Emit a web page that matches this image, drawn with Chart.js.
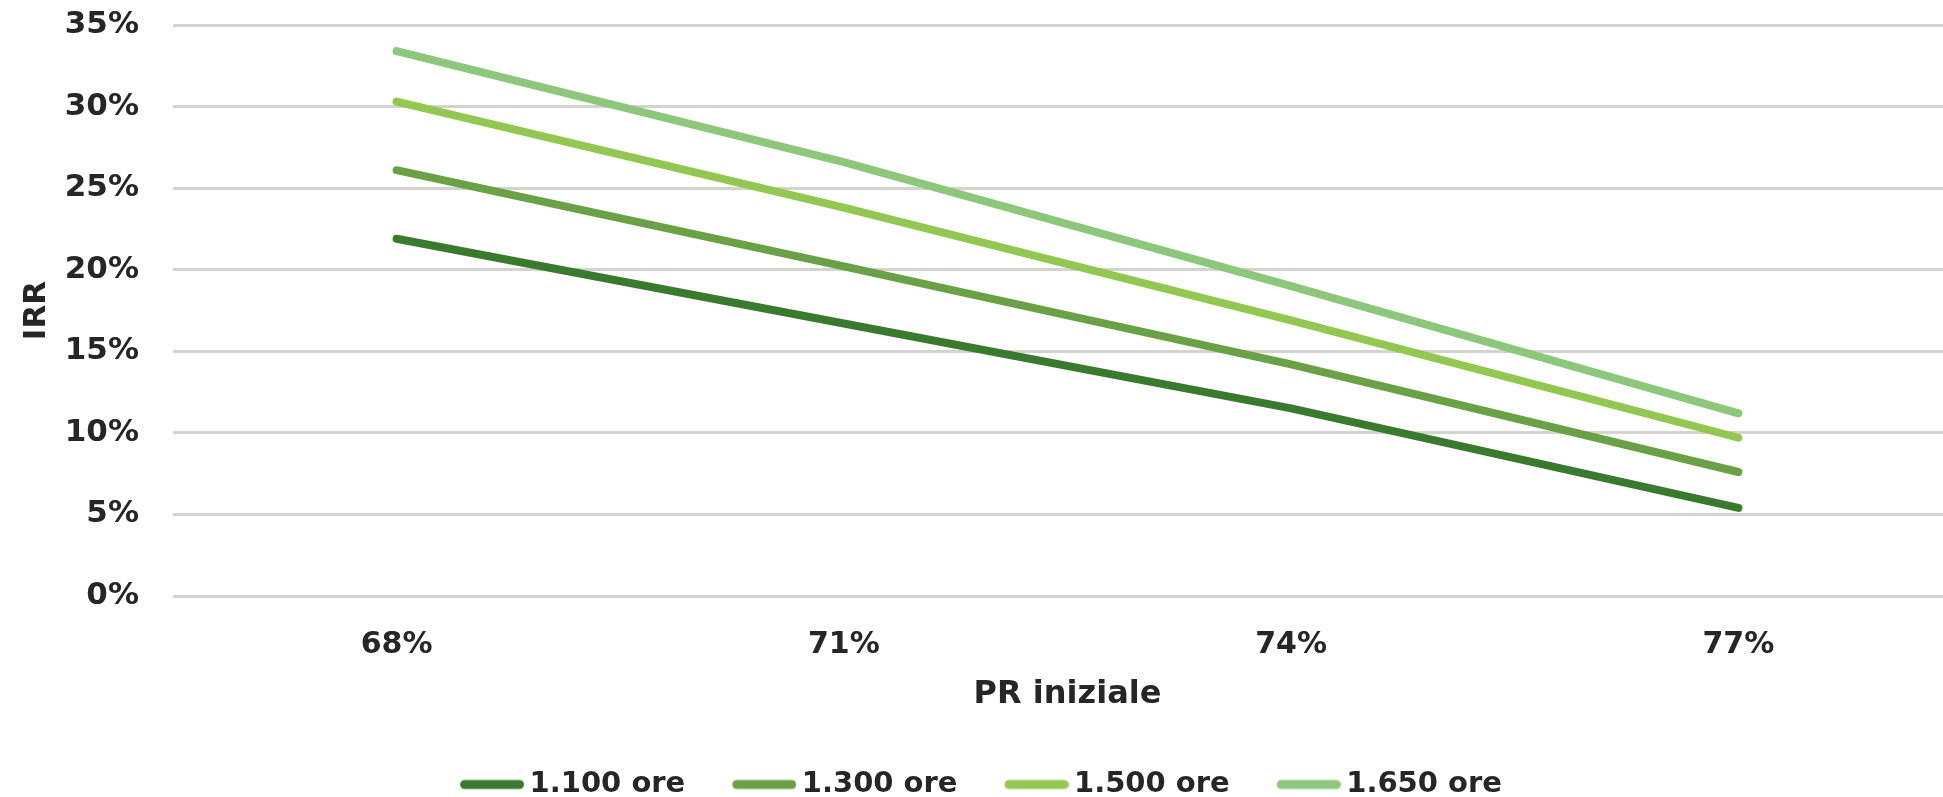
<!DOCTYPE html>
<html>
<head>
<meta charset="utf-8">
<script src="https://cdn.jsdelivr.net/npm/chart.js@4/dist/chart.umd.min.js"></script>
<style>
  html, body { margin: 0; padding: 0; background: #ffffff; overflow: hidden; }
  #wrap { width: 1943px; height: 797px; overflow: hidden; position: relative; }
  canvas { display: block; }
</style>
</head>
<body>
<div id="wrap"><canvas id="irr" width="1962" height="809"></canvas></div>
<script>
// PR iniziale categories
const categories = ['68%', '71%', '74%', '77%'];
// IRR (%) for each yearly equivalent-hours scenario
const irr1100 = [21.9, 16.7, 11.5, 5.4];
const irr1300 = [26.1, 20.2, 14.2, 7.6];
const irr1500 = [30.3, 23.8, 16.9, 9.7];
const irr1650 = [33.4, 26.6, 19.0, 11.2];
const seriesNames = ['1.100 ore', '1.300 ore', '1.500 ore', '1.650 ore'];
const seriesColors = ['#3a7a2e', '#6aa046', '#92c851', '#8dc77c'];
const yTicks = [0, 5, 10, 15, 20, 25, 30, 35];

const FONT = '"DejaVu Sans", sans-serif';
const TEXT = '#262626';

// Legend swatch: a short rounded line that reaches close to the label text
const SWATCH_BOX = 55;
const SWATCH_LEN = 64;
function makeSwatch(color) {
  const c = document.createElement('canvas');
  const w = 2 * (SWATCH_LEN - SWATCH_BOX / 2);
  c.width = w;
  c.height = 14;
  const g = c.getContext('2d');
  g.strokeStyle = color;
  g.lineWidth = 9;
  g.lineCap = 'round';
  g.beginPath();
  g.moveTo(w - SWATCH_LEN + 4.5, 7);
  g.lineTo(w - 4.5, 7);
  g.stroke();
  return c;
}

const seriesData = [irr1100, irr1300, irr1500, irr1650];
const datasets = seriesData.map((vals, i) => ({
  label: seriesNames[i],
  data: vals,
  borderColor: seriesColors[i],
  backgroundColor: seriesColors[i],
  borderWidth: 8,
  borderCapStyle: 'round',
  borderJoinStyle: 'round',
  pointRadius: 0,
  pointHoverRadius: 0,
  tension: 0,
  fill: false
}));
const swatches = seriesColors.map(makeSwatch);

new Chart(document.getElementById('irr'), {
  type: 'line',
  data: { labels: categories, datasets },
  options: {
    responsive: false,
    devicePixelRatio: 1,
    animation: false,
    layout: { autoPadding: false, padding: { left: 0, right: 0, top: 25, bottom: 0 } },
    plugins: {
      tooltip: { enabled: false },
      legend: {
        position: 'bottom',
        labels: {
          usePointStyle: true,
          pointStyleWidth: SWATCH_BOX,
          boxHeight: 9,
          padding: 47,
          color: TEXT,
          font: { family: FONT, size: 29, weight: 'bold' },
          generateLabels: (chart) => chart.data.datasets.map((ds, i) => ({
            text: ds.label,
            fillStyle: ds.borderColor,
            strokeStyle: ds.borderColor,
            lineWidth: 0,
            pointStyle: swatches[i],
            hidden: false,
            datasetIndex: i,
            fontColor: TEXT
          }))
        }
      }
    },
    scales: {
      x: {
        type: 'category',
        offset: true,
        grid: { display: false },
        border: { display: false },
        afterFit: (scale) => { scale.height = 127; },
        ticks: {
          color: TEXT,
          padding: 23,
          font: { family: FONT, size: 30, weight: 'bold' }
        },
        title: {
          display: true,
          text: 'PR iniziale',
          color: TEXT,
          padding: { top: 6, bottom: 9 },
          font: { family: FONT, size: 32, weight: 'bold' }
        }
      },
      y: {
        min: 0,
        max: 35,
        afterBuildTicks: (axis) => { axis.ticks = yTicks.map(v => ({ value: v })); },
        afterFit: (scale) => { scale.width = 173; },
        grid: {
          color: '#d3d3cf',
          lineWidth: 3,
          drawTicks: true,
          tickLength: 34,
          tickColor: 'rgba(0,0,0,0)'
        },
        border: { display: false },
        ticks: {
          color: TEXT,
          padding: 0,
          font: { family: FONT, size: 31, weight: 'bold' },
          callback: (v) => v + '%'
        },
        title: {
          display: true,
          text: 'IRR',
          color: TEXT,
          padding: { top: 18, bottom: 0 },
          font: { family: FONT, size: 31, weight: 'bold' }
        }
      }
    }
  }
});
</script>
</body>
</html>
